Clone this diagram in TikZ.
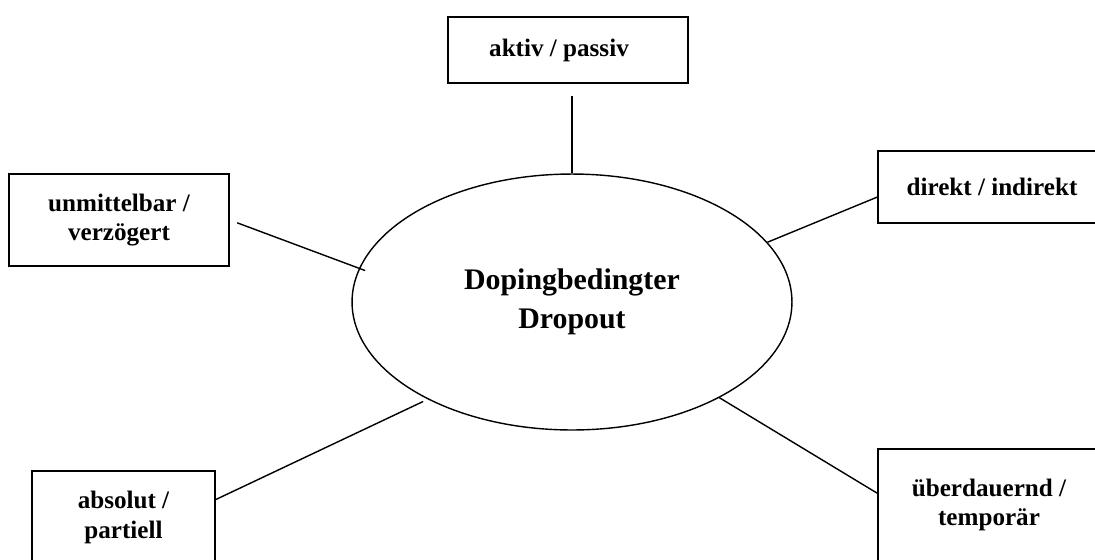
\documentclass[tikz,border=0pt]{standalone}
\usepackage{fontspec}
\setmainfont{Liberation Serif}
\usetikzlibrary{shapes.geometric}
\tikzset{every edge/.style={draw, line width=0.8pt}}
\tikzset{merkmal/.style={draw, line width=0.8pt, align=center, inner sep=0pt,
    font=\bfseries\fontsize{14.3}{17}\selectfont}}

\begin{document}
\begin{tikzpicture}[x=0.02cm, y=-0.02cm]       % pixel grid
    \useasboundingbox (0, 0) rectangle (1095, 559);

    \node[draw, ellipse, line width=0.8pt, inner sep=0pt, minimum width=8.8cm, minimum height=5.12cm,
        align=center, font=\bfseries\fontsize{17}{22.5}\selectfont] at (572, 302) (ell) {Dopingbedingter\\Dropout};

    \node[merkmal, minimum width=4.8cm, minimum height=1.32cm] at (568, 50) (AP) {aktiv / passiv\hspace*{0.36cm}};
    \node[merkmal, minimum width=4.4cm, minimum height=1.84cm] at (119, 220) (UV) {unmittelbar /\\verzögert};
    \node[merkmal, minimum width=4.56cm, minimum height=1.44cm] at (992, 187) (DI) {direkt / indirekt};
    \node[merkmal, minimum width=3.66cm, minimum height=1.86cm] at (123.5, 517.5) (AB) {absolut /\\partiell};
    \node[merkmal, minimum width=4.44cm, minimum height=2.24cm] at (989, 505) (UT) {überdauernd /\\temporär};

    \draw (AP.south -| ell.north) edge[shorten <=0.24cm] (ell.north);
    \draw (UV.east) edge[shorten <=0.16cm, shorten >=-0.13cm] (ell.171);
    \draw (ell.17.6) edge (DI.185);
    \draw (AB.11) edge[shorten >=0.1cm] (ell.214);
    \draw (ell.327) edge (UT.174);

\end{tikzpicture}
\end{document}
